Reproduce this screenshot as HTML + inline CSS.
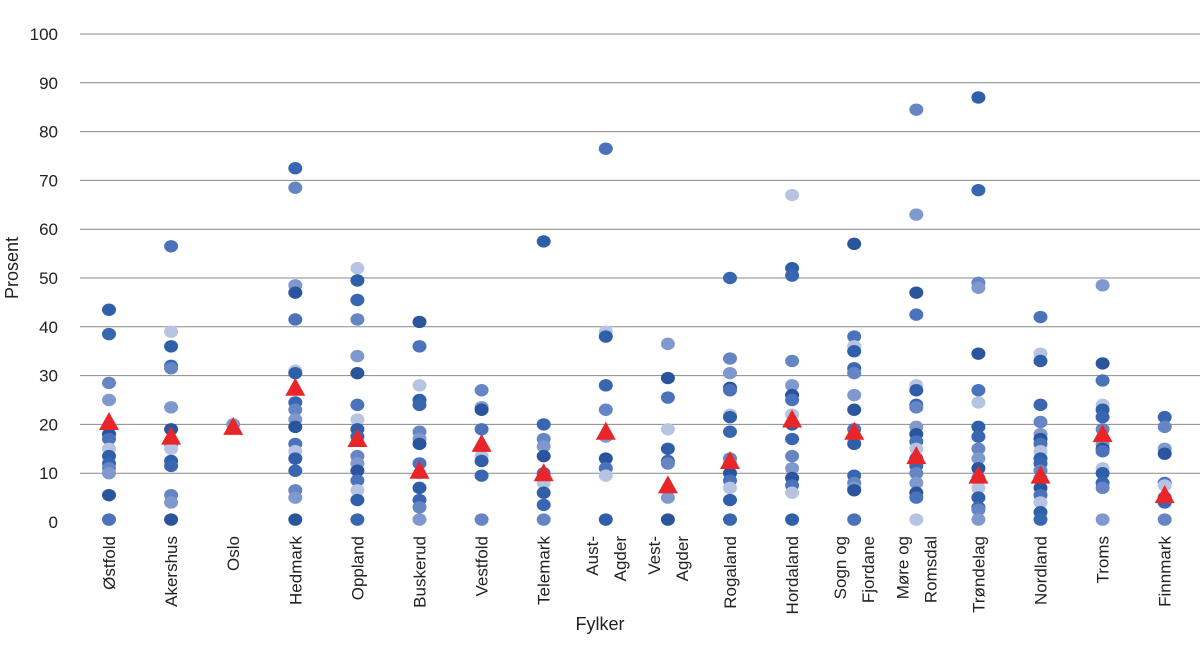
<!DOCTYPE html>
<html><head><meta charset="utf-8"><style>
body{margin:0;background:#fff;}
svg{display:block;font-family:"Liberation Sans",sans-serif;}
</style></head><body>
<svg id="chart" width="1200" height="651" viewBox="0 0 1200 651">
<g id="grid"></g>
<g id="yticks"></g>
<g id="dots"></g>
<g id="tris"></g>
<g id="xlabels"></g>
<text x="600" y="630" font-size="18" text-anchor="middle" fill="#222">Fylker</text>
<text transform="translate(18,268) rotate(-90)" font-size="18" text-anchor="middle" fill="#222">Prosent</text>
</svg>
<script>
const categories=[["Østfold"],["Akershus"],["Oslo"],["Hedmark"],["Oppland"],["Buskerud"],["Vestfold"],["Telemark"],["Aust-","Agder"],["Vest-","Agder"],["Rogaland"],["Hordaland"],["Sogn og","Fjordane"],["Møre og","Romsdal"],["Trøndelag"],["Nordland"],["Troms"],["Finnmark"]];
const pointValues=[
[43.5,38.5,28.5,25,18,17,15,13.5,12,11,10,5.5,0.5],
[56.5,39,36,32,31.5,23.5,19,16,15,12.5,11.5,5.5,4,0.5],
[20],
[72.5,68.5,48.5,47,41.5,31,30.5,24.5,23,21,19.5,16,14.5,13,10.5,6.5,5,0.5],
[52,49.5,45.5,41.5,34,30.5,24,21,19,17.5,13.5,12,10.5,8.5,6.5,4.5,0.5],
[41,36,28,25,24,18.5,17,16,12,10,7,4.5,3,0.5],
[27,23.5,23,19,13.5,12.5,9.5,0.5],
[57.5,20,17,15.5,13.5,10,8,6,3.5,0.5],
[76.5,39,38,28,23,17.5,13,11,9.5,0.5],
[36.5,29.5,25.5,19,15,12.5,12,5,0.5],
[50,33.5,30.5,27.5,27,22,21.5,18.5,13,12,10,8.5,7,4.5,0.5],
[67,52,50.5,33,28,26,25,22,20,17,13.5,11,9,7.5,6,0.5],
[57,38,36,35,31.5,30.5,26,23,19,16.5,16,9.5,8,7,6.5,0.5],
[84.5,63,47,42.5,28,27,24,23.5,19.5,18,16.5,15,13,11.5,10,8,6,5,0.5],
[87,68,49,48,34.5,27,24.5,19.5,17.5,15,13,11,9,7,5,3,2.5,0.5],
[42,34.5,33,24,20.5,18,17,16,14.5,13,12,10.5,9,7,5.5,4,2,0.5],
[48.5,32.5,29,24,23,21.5,19,16,15,14.5,11,10,8,7,0.5],
[21.5,19.5,15,14,8,7.5,5,4,0.5]];
const averages=[20.5,17.5,19.5,27.5,17,10.5,16,10,18.5,7.5,12.5,21,18.5,13.5,9.5,9.5,18,5.5];
const yTicks=[0,10,20,30,40,50,60,70,80,90,100];
const NS="http://www.w3.org/2000/svg";
const shades=["#2f5fa8","#4a73bb","#7f98cd","#3966b0","#b6c4e2","#2a559c","#6685c4"];
function y(v){return 522-v*4.88;}
function x(i){return 109+i*62.1;}
function mk(t,a,p){const e=document.createElementNS(NS,t);for(const k in a)e.setAttribute(k,a[k]);p.appendChild(e);return e;}
const grid=document.getElementById('grid'),yt=document.getElementById('yticks');
yTicks.forEach(v=>{
 if(v>0){const l=mk('line',{x1:80,x2:1200,y1:y(v),y2:y(v),stroke:'#8a8a8a','stroke-width':1},grid);
 
 }
 const t=mk('text',{x:58,y:y(v)+6,'font-size':17,'text-anchor':'end',fill:'#222'},yt);t.textContent=v;
 
 
});
const dots=document.getElementById('dots'),tris=document.getElementById('tris'),xl=document.getElementById('xlabels');
pointValues.forEach((arr,i)=>{
 arr.forEach((v,j)=>{
  const c=mk('ellipse',{cx:x(i),cy:y(v),rx:7,ry:6.2,fill:shades[(j*3+i)%shades.length]},dots);
  
  
 });
});
averages.forEach((v,i)=>{
 const cx=x(i),cy=y(v);
 const p=mk('polygon',{points:`${cx-10},${cy+8} ${cx+10},${cy+8} ${cx},${cy-10}`,fill:'#e8262a'},tris);
 
 
});
categories.forEach((lines,i)=>{
 lines.forEach((s,k)=>{
  const off=lines.length===2?(k===0?-14:14):0;
  const tx=x(i)+off+6;
  const t=mk('text',{transform:`translate(${tx},536) rotate(-90)`,'font-size':17,'text-anchor':'end',fill:'#222'},xl);
  t.textContent=s;
  
  
 });
});
</script>
</body></html>
